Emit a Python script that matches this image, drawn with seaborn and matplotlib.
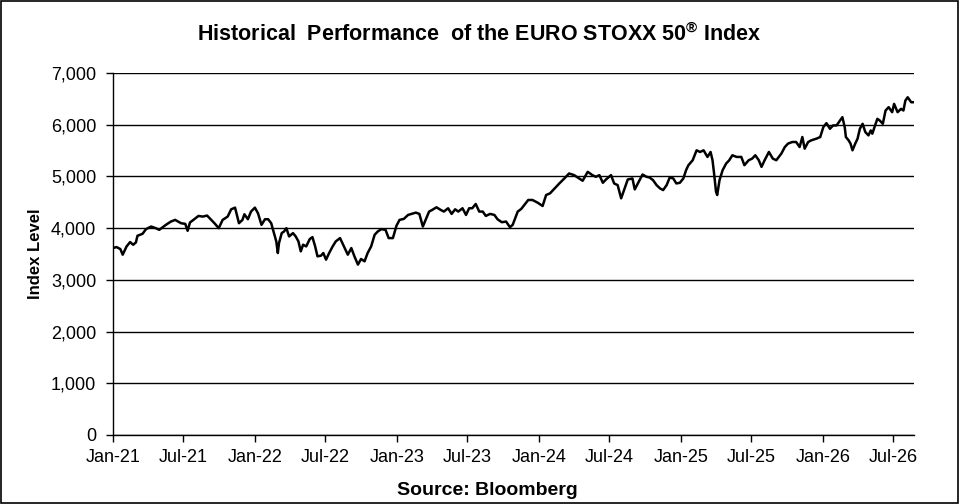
import pandas as pd
import matplotlib
matplotlib.use("Agg")
import matplotlib.pyplot as plt
import matplotlib.dates as mdates
from matplotlib.ticker import FuncFormatter
from matplotlib.patches import Rectangle
import seaborn as sns

# Index levels
dates = [
    "2021-01-01", "2021-01-10", "2021-01-20", "2021-01-26", "2021-02-05", "2021-02-14",
    "2021-02-22", "2021-03-01", "2021-03-05", "2021-03-18", "2021-03-27", "2021-04-09",
    "2021-04-21", "2021-04-30", "2021-05-08", "2021-05-17", "2021-05-30", "2021-06-10",
    "2021-06-25", "2021-07-06", "2021-07-12", "2021-07-18", "2021-07-29", "2021-08-09",
    "2021-08-20", "2021-08-31", "2021-09-11", "2021-09-19", "2021-09-30", "2021-10-10",
    "2021-10-23", "2021-11-01", "2021-11-11", "2021-11-21", "2021-11-30", "2021-12-05",
    "2021-12-14", "2021-12-22", "2022-01-01", "2022-01-09", "2022-01-18", "2022-01-27",
    "2022-02-04", "2022-02-12", "2022-02-18", "2022-02-25", "2022-03-01", "2022-03-04",
    "2022-03-11", "2022-03-17", "2022-03-23", "2022-03-30", "2022-04-09", "2022-04-16",
    "2022-04-23", "2022-04-29", "2022-05-05", "2022-05-13", "2022-05-22", "2022-05-29",
    "2022-06-05", "2022-06-11", "2022-06-20", "2022-06-26", "2022-07-03", "2022-07-11",
    "2022-07-20", "2022-07-28", "2022-08-08", "2022-08-16", "2022-08-28", "2022-09-06",
    "2022-09-14", "2022-09-23", "2022-10-01", "2022-10-10", "2022-10-18", "2022-10-27",
    "2022-11-05", "2022-11-13", "2022-11-22", "2022-12-03", "2022-12-11", "2022-12-22",
    "2022-12-31", "2023-01-08", "2023-01-19", "2023-01-30", "2023-02-08", "2023-02-19",
    "2023-02-28", "2023-03-09", "2023-03-16", "2023-03-25", "2023-04-02", "2023-04-13",
    "2023-04-24", "2023-05-02", "2023-05-13", "2023-05-22", "2023-05-31", "2023-06-08",
    "2023-06-19", "2023-06-28", "2023-07-06", "2023-07-14", "2023-07-23", "2023-08-01",
    "2023-08-10", "2023-08-18", "2023-08-29", "2023-09-09", "2023-09-17", "2023-09-28",
    "2023-10-09", "2023-10-19", "2023-10-26", "2023-11-08", "2023-11-17", "2023-11-25",
    "2023-12-05", "2023-12-16", "2023-12-29", "2024-01-11", "2024-01-20", "2024-01-30",
    "2024-02-11", "2024-02-23", "2024-03-07", "2024-03-19", "2024-04-01", "2024-04-14",
    "2024-04-23", "2024-05-06", "2024-05-18", "2024-05-27", "2024-06-05", "2024-06-14",
    "2024-06-22", "2024-07-05", "2024-07-13", "2024-07-22", "2024-07-31", "2024-08-09",
    "2024-08-17", "2024-08-29", "2024-09-04", "2024-09-12", "2024-09-24", "2024-10-04",
    "2024-10-12", "2024-10-21", "2024-10-30", "2024-11-08", "2024-11-16", "2024-11-25",
    "2024-12-03", "2024-12-12", "2024-12-20", "2024-12-29", "2025-01-07", "2025-01-14",
    "2025-01-20", "2025-01-31", "2025-02-10", "2025-02-19", "2025-02-28", "2025-03-10",
    "2025-03-18", "2025-03-23", "2025-03-27", "2025-04-01", "2025-04-04", "2025-04-10",
    "2025-04-18", "2025-04-27", "2025-05-05", "2025-05-13", "2025-05-24", "2025-06-05",
    "2025-06-13", "2025-06-24", "2025-07-03", "2025-07-11", "2025-07-20", "2025-07-27",
    "2025-08-04", "2025-08-15", "2025-08-25", "2025-09-03", "2025-09-16", "2025-09-25",
    "2025-10-03", "2025-10-14", "2025-10-24", "2025-11-02", "2025-11-09", "2025-11-15",
    "2025-11-24", "2025-12-02", "2025-12-15", "2025-12-25", "2026-01-02", "2026-01-10",
    "2026-01-19", "2026-01-27", "2026-02-05", "2026-02-14", "2026-02-20", "2026-02-26",
    "2026-03-01", "2026-03-08", "2026-03-13", "2026-03-18", "2026-03-25", "2026-03-31",
    "2026-04-06", "2026-04-13", "2026-04-20", "2026-04-28", "2026-05-04", "2026-05-08",
    "2026-05-15", "2026-05-21", "2026-05-27", "2026-06-04", "2026-06-11", "2026-06-19",
    "2026-06-28", "2026-07-03", "2026-07-12", "2026-07-21", "2026-07-27", "2026-08-01",
    "2026-08-07", "2026-08-16", "2026-08-23",
]
levels = [
    3615, 3635, 3596, 3487, 3647, 3731, 3679, 3724, 3853, 3891, 3981, 4032,
    4000, 3968, 4013, 4064, 4128, 4160, 4096, 4083, 3949, 4109, 4173, 4237,
    4224, 4244, 4160, 4096, 4000, 4160, 4224, 4365, 4397, 4096, 4160, 4269,
    4173, 4321, 4397, 4288, 4064, 4173, 4173, 4096, 3936, 3744, 3519, 3712,
    3904, 3936, 4000, 3840, 3904, 3840, 3744, 3551, 3680, 3647, 3788, 3827,
    3647, 3455, 3468, 3519, 3391, 3519, 3647, 3744, 3808, 3680, 3487, 3615,
    3455, 3295, 3404, 3359, 3519, 3647, 3872, 3936, 3981, 3968, 3808, 3808,
    4045, 4160, 4179, 4256, 4276, 4301, 4276, 4032, 4160, 4321, 4353, 4404,
    4353, 4321, 4385, 4276, 4365, 4321, 4385, 4256, 4385, 4385, 4468, 4321,
    4321, 4237, 4276, 4256, 4173, 4115, 4128, 4019, 4064, 4321, 4372, 4449,
    4545, 4545, 4494, 4429, 4641, 4673, 4769, 4865, 4962, 5058, 5026, 4962,
    4917, 5090, 5026, 4994, 5026, 4878, 4942, 5026, 4865, 4833, 4577, 4769,
    4942, 4962, 4750, 4865, 5038, 4994, 4981, 4929, 4833, 4769, 4737, 4833,
    4981, 4962, 4865, 4878, 4962, 5122, 5218, 5314, 5506, 5474, 5506, 5378,
    5474, 5314, 5058, 4705, 4641, 4929, 5122, 5250, 5314, 5410, 5378, 5378,
    5218, 5314, 5346, 5410, 5314, 5186, 5314, 5474, 5346, 5314, 5442, 5570,
    5635, 5667, 5667, 5570, 5763, 5538, 5667, 5699, 5731, 5763, 5955, 6032,
    5923, 5987, 5987, 6083, 6147, 5955, 5763, 5699, 5635, 5506, 5635, 5731,
    5923, 6019, 5859, 5795, 5891, 5827, 5987, 6115, 6083, 6019, 6276, 6340,
    6244, 6404, 6244, 6308, 6276, 6468, 6532, 6436, 6436,
]
y_ticks = [0, 1000, 2000, 3000, 4000, 5000, 6000, 7000]

sns.set_theme(style="white")
plt.rcParams["font.family"] = ["Liberation Sans", "DejaVu Sans"]
plt.rcParams["mathtext.fontset"] = "custom"
plt.rcParams["mathtext.rm"] = "Liberation Sans:bold"

df = pd.DataFrame({"Date": pd.to_datetime(dates), "Level": levels})

fig = plt.figure(figsize=(9.59, 5.04), dpi=100)
ax = fig.add_axes([0.1178, 0.137, 0.8352, 0.718])

sns.lineplot(data=df, x="Date", y="Level", ax=ax, color="black", linewidth=1.8)

ax.set_xlim(pd.Timestamp("2021-01-01"), pd.Timestamp("2026-08-23"))
ax.set_ylim(0, 7000)
ax.set_yticks(y_ticks)
ax.yaxis.set_major_formatter(FuncFormatter(lambda v, p: f"{int(v):,}"))
ax.xaxis.set_major_locator(mdates.MonthLocator(bymonth=[1, 7]))
ax.xaxis.set_major_formatter(mdates.DateFormatter("%b-%y"))

ax.grid(axis="y", color="black", linewidth=1.0)
ax.grid(axis="x", visible=False)
ax.set_axisbelow(True)
for side in ["top", "right"]:
    ax.spines[side].set_visible(False)
for side in ["left", "bottom"]:
    ax.spines[side].set_color("black")
    ax.spines[side].set_linewidth(1.0)

ax.tick_params(axis="both", direction="out", length=5, width=1, color="black",
               labelsize=13, labelcolor="black")
ax.tick_params(axis="x", bottom=True, pad=5)
ax.tick_params(axis="y", left=True, pad=7)

ax.set_xlabel("")
ax.set_ylabel("Index Level", fontsize=12, fontweight="bold", color="black", labelpad=6)

fig.text(0.5, 0.932, "Historical  Performance  of the EURO STOXX 50$^{\\mathregular{®}}$ Index",
         ha="center", va="center", fontsize=15.5, fontweight="bold", color="black")
fig.text(0.508, 0.027, "Source: Bloomberg", ha="center", va="center",
         fontsize=14, fontweight="bold", color="black")

fig.add_artist(Rectangle((0.001, 0.001), 0.998, 0.997, transform=fig.transFigure,
                         fill=False, edgecolor="black", linewidth=1.2))

fig.savefig("out.png", dpi=100)
